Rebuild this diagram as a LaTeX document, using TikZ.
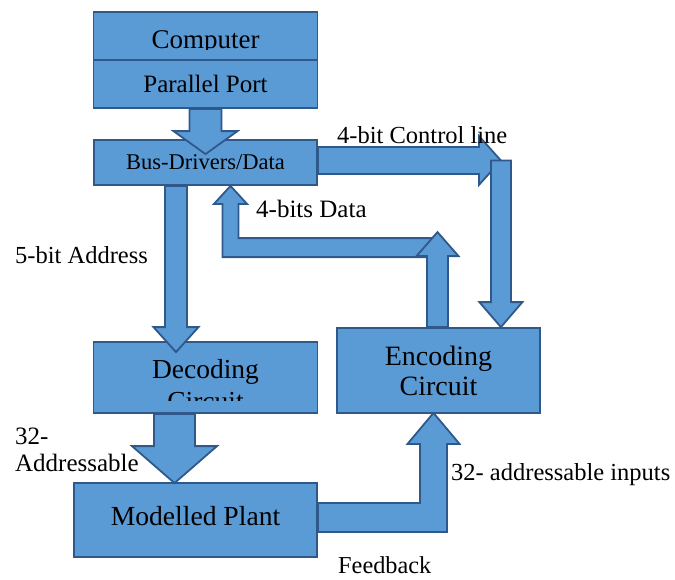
\documentclass[tikz,border=0pt]{standalone}
\usepackage{fontspec}
\setmainfont{Liberation Serif}
\usepackage{tikz}
\usetikzlibrary{calc}

\definecolor{boxblue}{RGB}{91,155,213}
\definecolor{boxline}{RGB}{46,89,138}

% straight block arrow: {from}{tip}{half shaft}{half head}{head length}
\newcommand{\fatarrow}[5]{%
  \coordinate (hb) at ($(#2)!#5!(#1)$);
  \draw[fat] ($(#1)!#3!90:(#2)$) -- ($(hb)!#3!-90:(#1)$) -- ($(hb)!#4!-90:(#1)$) -- (#2)
    -- ($(hb)!#4!90:(#1)$) -- ($(hb)!#3!90:(#1)$) -- ($(#1)!#3!-90:(#2)$) -- cycle;
}

\begin{document}
\begin{tikzpicture}[x=1pt, y=-1pt,
    block/.style={draw=boxline, fill=boxblue, line width=1.8pt, inner sep=0pt, align=center},
    fat/.style={draw=boxline, fill=boxblue, line width=1.8pt, line join=miter},
    lbl/.style={inner sep=0pt, anchor=base west}]
  \useasboundingbox (0,0) rectangle (675,579);

  \node[block, minimum width=224pt, minimum height=48pt] (Comp) at (205.5,36) {};
  \node[block, minimum width=224pt, minimum height=48pt, font=\fontsize{25}{29}\selectfont] (Port) at (205.5,84) {Parallel Port};
  \node[block, minimum width=223pt, minimum height=45pt, font=\fontsize{22.5}{26}\selectfont] (Bus) at (205.5,162.5) {Bus-Drivers/Data};
  \node[block, minimum width=224pt, minimum height=71pt] (Dec) at (205.5,377.5) {};
  \node[block, minimum width=203pt, minimum height=85pt, font=\fontsize{28}{30}\selectfont] (Enc) at (438.5,370.5) {Encoding\\Circuit};
  \node[block, minimum width=243pt, minimum height=74pt, text depth=8pt, font=\fontsize{27.6}{30}\selectfont] (Plant) at (195.5,520) {Modelled Plant};

  \begin{scope}
    \clip (94,12) rectangle (318,49.5);
    \node[inner sep=0pt, anchor=base, font=\fontsize{27}{30}\selectfont] (CompTxt) at (205.5,48) {Computer};
  \end{scope}
  \begin{scope}
    \clip (94,342) rectangle (317,400);
    \node[inner sep=0pt, anchor=north, align=center, font=\fontsize{27.5}{32}\selectfont] (DecTxt) at (205.5,359.2) {Decoding\\Circuit};
  \end{scope}

  \coordinate (a1) at (Port.south);
  \coordinate (a1t) at ($(Bus.north)+(0,15)$);
  \fatarrow{a1}{a1t}{16pt}{32pt}{23pt}

  \coordinate (adr) at ($(Bus.south)+(-29.5,0)$);
  \coordinate (adrt) at ($(adr |- Dec.north)+(0,11)$);
  \fatarrow{adr}{adrt}{11pt}{22.5pt}{25pt}

  \coordinate (dcd) at ($(Dec.south)+(-31,0)$);
  \coordinate (dcdt) at ($(dcd |- Plant.north)+(0,1)$);
  \fatarrow{dcd}{dcdt}{20.5pt}{42.5pt}{37pt}

  \coordinate (ctl0) at ($(Bus.east)+(0,-2)$);
  \coordinate (ctl) at ($(Bus.east)+(183,-2)$);
  \fatarrow{ctl0}{ctl}{13.5pt}{24.5pt}{22pt}
  \coordinate (ctlt) at (ctl |- Enc.north);
  \fatarrow{ctl}{ctlt}{10pt}{21.5pt}{25pt}

  \coordinate (dat) at ($(Enc.north)+(-1,-79.5)$);
  \coordinate (datt) at ($(Bus.south)+(25,0)$);
  \draw[fat] ($(dat)+(0,-9.5)$) -- ($(datt |- dat)+(8,-9.5)$) -- ($(datt)+(8,18)$) -- ($(datt)+(16.5,18)$)
    -- (datt) -- ($(datt)+(-16.5,18)$) -- ($(datt)+(-8,18)$) -- ($(datt |- dat)+(-8,9.5)$) -- ($(dat)+(0,9.5)$) -- cycle;
  \coordinate (up0) at ($(Enc.north)+(-1,0)$);
  \coordinate (upt) at ($(Enc.north)+(-1,-95)$);
  \fatarrow{up0}{upt}{10.5pt}{21pt}{24pt}

  \coordinate (fb) at ($(Plant.east)+(0,-2.5)$);
  \coordinate (fbt) at ($(Enc.south)+(-5,-1)$);
  \draw[fat] ($(fb)+(0,-14.5)$) -- ($(fbt |- fb)+(-13.5,-14.5)$) -- ($(fbt)+(-13.5,31)$) -- ($(fbt)+(-26,31)$)
    -- (fbt) -- ($(fbt)+(26,31)$) -- ($(fbt)+(13.5,31)$) -- ($(fbt |- fb)+(13.5,14.5)$) -- ($(fb)+(0,14.5)$) -- cycle;

  \node[lbl, font=\fontsize{24.5}{28}\selectfont] (CtlLbl) at (337,143) {4-bit Control line};
  \node[lbl, font=\fontsize{25}{28}\selectfont] (DatLbl) at (256,217) {4-bits Data};
  \node[lbl, font=\fontsize{24.5}{28}\selectfont] (AdrLbl) at (15,263) {5-bit Address};
  \node[inner sep=0pt, anchor=north west, align=left, font=\fontsize{25}{27}\selectfont] (OutLbl) at (15,428.1) {32-\\Addressable};
  \node[lbl, font=\fontsize{24.5}{28}\selectfont] (InLbl) at (451,480) {32- addressable inputs};
  \node[lbl, font=\fontsize{24.3}{28}\selectfont] (FbLbl) at (338,573) {Feedback};
\end{tikzpicture}
\end{document}
